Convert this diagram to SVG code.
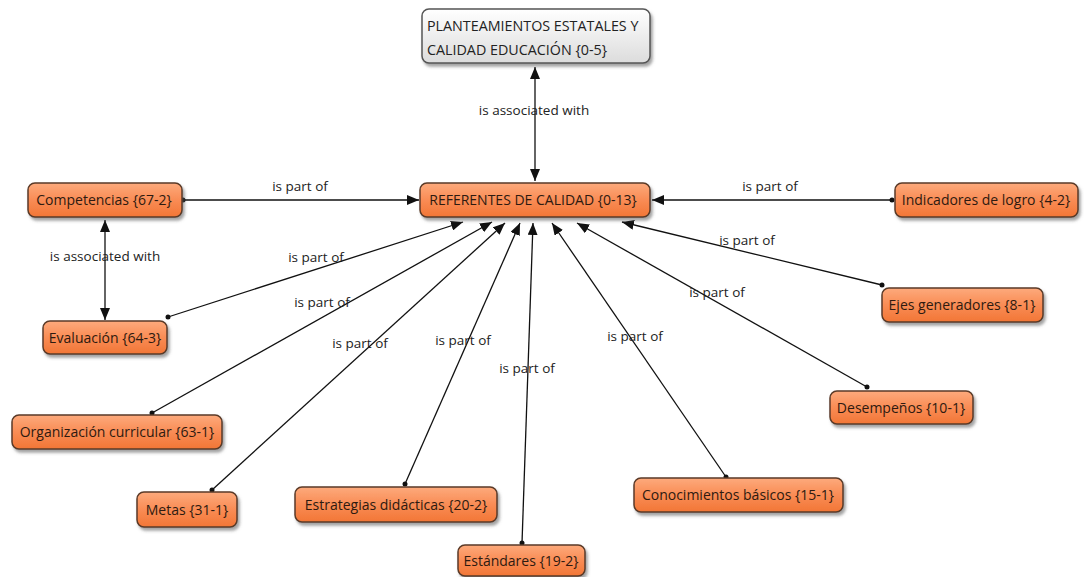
<svg xmlns="http://www.w3.org/2000/svg" width="1085" height="577" viewBox="0 0 1085 577">
<defs>
<linearGradient id="og" x1="0" y1="0" x2="0" y2="1">
<stop offset="0" stop-color="#fdaa7c"/>
<stop offset="0.5" stop-color="#f98c55"/>
<stop offset="1" stop-color="#f27636"/>
</linearGradient>
<linearGradient id="gg" x1="0" y1="0" x2="0" y2="1">
<stop offset="0" stop-color="#ffffff"/>
<stop offset="1" stop-color="#dcdcdc"/>
</linearGradient>
<filter id="sh" x="-10%" y="-20%" width="130%" height="160%">
<feDropShadow dx="2" dy="3" stdDeviation="1.5" flood-color="#555" flood-opacity="0.55"/>
</filter>
<marker id="ah" viewBox="0 0 12 10" refX="12" refY="5" markerWidth="12" markerHeight="10" markerUnits="userSpaceOnUse" orient="auto">
<path d="M0,0 L12,5 L0,10 z" fill="#111"/>
</marker>
<marker id="as" viewBox="0 0 12 10" refX="0" refY="5" markerWidth="12" markerHeight="10" markerUnits="userSpaceOnUse" orient="auto">
<path d="M12,0 L0,5 L12,10 z" fill="#111"/>
</marker>
</defs>
<style>
.n{fill:url(#og);stroke:#5a3a28;stroke-width:1.5;filter:url(#sh)}
.g{fill:url(#gg);stroke:#555;stroke-width:1.5;filter:url(#sh)}
.t{font-family:"Open Sans","Noto Sans",sans-serif;font-size:14px;fill:#2e1a10;text-anchor:middle}
.tg{font-family:"Open Sans","Noto Sans",sans-serif;font-size:14.3px;fill:#222;text-anchor:start}
.l{font-family:"Open Sans","Noto Sans",sans-serif;font-size:13.5px;fill:#222;text-anchor:middle}
.c{stroke:#111;stroke-width:1.3;fill:none}
.d{fill:#111}
</style>
<rect width="1085" height="577" fill="#fff"/>
<g id="connectors">
<line class="c" x1="535" y1="67" x2="535" y2="181" marker-start="url(#as)" marker-end="url(#ah)"/>
<line class="c" x1="183" y1="200" x2="419" y2="200" marker-end="url(#ah)"/>
<line class="c" x1="892" y1="200" x2="652" y2="200" marker-end="url(#ah)"/>
<line class="c" x1="105" y1="220" x2="105" y2="320" marker-start="url(#as)" marker-end="url(#ah)"/>
<line class="c" x1="168" y1="317" x2="463" y2="222" marker-end="url(#ah)"/>
<line class="c" x1="152" y1="413" x2="492" y2="222" marker-end="url(#ah)"/>
<line class="c" x1="212" y1="490" x2="505" y2="223" marker-end="url(#ah)"/>
<line class="c" x1="405" y1="484" x2="520" y2="223" marker-end="url(#ah)"/>
<line class="c" x1="522" y1="543" x2="533" y2="223" marker-end="url(#ah)"/>
<line class="c" x1="726" y1="477" x2="552" y2="223" marker-end="url(#ah)"/>
<line class="c" x1="867" y1="387" x2="577" y2="223" marker-end="url(#ah)"/>
<line class="c" x1="882" y1="285" x2="622" y2="222" marker-end="url(#ah)"/>
<circle class="d" cx="183" cy="200" r="2.5"/>
<circle class="d" cx="892" cy="200" r="2.5"/>
<circle class="d" cx="168" cy="317" r="2.5"/>
<circle class="d" cx="152" cy="413" r="2.5"/>
<circle class="d" cx="212" cy="490" r="2.5"/>
<circle class="d" cx="405" cy="484" r="2.5"/>
<circle class="d" cx="522" cy="543" r="2.5"/>
<circle class="d" cx="726" cy="477" r="2.5"/>
<circle class="d" cx="867" cy="387" r="2.5"/>
<circle class="d" cx="882" cy="285" r="2.5"/>
<text class="l" x="534" y="115">is associated with</text>
<text class="l" x="300" y="191">is part of</text>
<text class="l" x="770" y="191">is part of</text>
<text class="l" x="105" y="261">is associated with</text>
<text class="l" x="316" y="262">is part of</text>
<text class="l" x="322" y="307">is part of</text>
<text class="l" x="360" y="348">is part of</text>
<text class="l" x="463" y="345">is part of</text>
<text class="l" x="527" y="373">is part of</text>
<text class="l" x="635" y="341">is part of</text>
<text class="l" x="717" y="297">is part of</text>
<text class="l" x="747" y="245">is part of</text>
</g>
<g id="n-planteamientos">
<rect class="g" x="422" y="9" width="228" height="54" rx="7"/>
<text class="tg" x="427" y="31">PLANTEAMIENTOS ESTATALES Y</text>
<text class="tg" x="427" y="55">CALIDAD EDUCACIÓN {0-5}</text>
</g>
<g id="n-referentes">
<rect class="n" x="420" y="183" width="230" height="34" rx="7"/>
<text class="t" x="533" y="205">REFERENTES DE CALIDAD {0-13}</text>
</g>
<g id="n-competencias">
<rect class="n" x="28" y="183" width="154" height="34" rx="7"/>
<text class="t" x="104" y="205">Competencias {67-2}</text>
</g>
<g id="n-indicadores">
<rect class="n" x="895" y="183" width="183" height="34" rx="7"/>
<text class="t" x="986" y="205">Indicadores de logro {4-2}</text>
</g>
<g id="n-evaluacion">
<rect class="n" x="43" y="321" width="124" height="33" rx="7"/>
<text class="t" x="105" y="343">Evaluación {64-3}</text>
</g>
<g id="n-organizacion">
<rect class="n" x="12" y="415" width="210" height="34" rx="7"/>
<text class="t" x="117" y="437">Organización curricular {63-1}</text>
</g>
<g id="n-metas">
<rect class="n" x="137" y="492" width="100" height="35" rx="7"/>
<text class="t" x="187" y="515">Metas {31-1}</text>
</g>
<g id="n-estrategias">
<rect class="n" x="295" y="487" width="202" height="35" rx="7"/>
<text class="t" x="396" y="510">Estrategias didácticas {20-2}</text>
</g>
<g id="n-estandares">
<rect class="n" x="458" y="545" width="127" height="31" rx="7"/>
<text class="t" x="521" y="566">Estándares {19-2}</text>
</g>
<g id="n-conocimientos">
<rect class="n" x="634" y="478" width="209" height="34" rx="7"/>
<text class="t" x="738" y="500">Conocimientos básicos {15-1}</text>
</g>
<g id="n-desempenos">
<rect class="n" x="830" y="391" width="143" height="33" rx="7"/>
<text class="t" x="901" y="413">Desempeños {10-1}</text>
</g>
<g id="n-ejes">
<rect class="n" x="882" y="288" width="161" height="34" rx="7"/>
<text class="t" x="962" y="310">Ejes generadores {8-1}</text>
</g>
</svg>
